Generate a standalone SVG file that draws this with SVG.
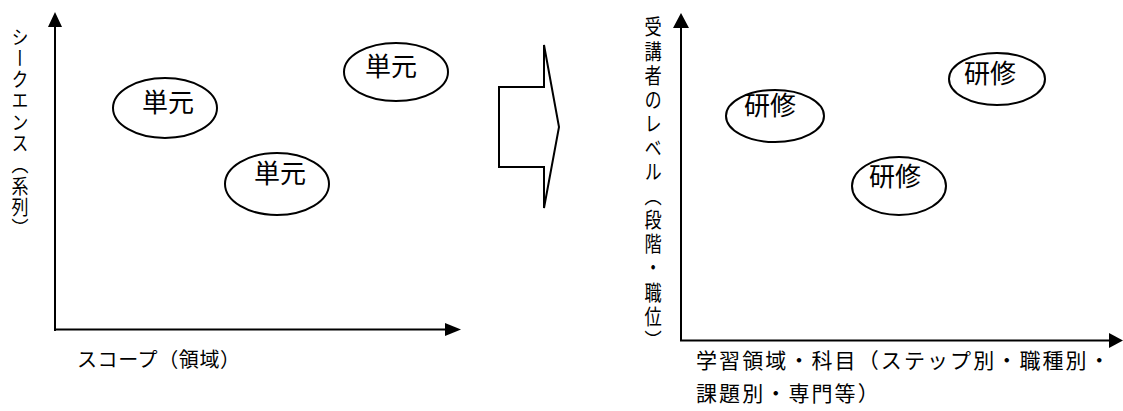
<svg xmlns="http://www.w3.org/2000/svg" width="1123" height="411" viewBox="0 0 1123 411">
<style>
.ax{stroke:#000;stroke-width:2;fill:none}
.ah{fill:#000;stroke:none}
.el{fill:#fff;stroke:#000;stroke-width:2}
.t{font-family:"Noto Sans CJK JP","Noto Sans CJK SC",sans-serif;fill:#000}
.et{font-size:26px;text-anchor:middle}
.lb{font-size:20px}
.vt{writing-mode:vertical-rl}
</style>
<rect width="1123" height="411" fill="#fff"/>
<g id="connectors">
  <line class="ax" x1="55" y1="26" x2="55" y2="331"/>
  <polygon class="ah" points="55,12 48,27 62,27"/>
  <line class="ax" x1="54" y1="329.5" x2="446" y2="329.5"/>
  <polygon class="ah" points="461,329.5 445,323 445,336"/>
  <line class="ax" x1="681" y1="27" x2="681" y2="341"/>
  <polygon class="ah" points="681,13 673,28 689,28"/>
  <line class="ax" x1="680" y1="340.5" x2="1111" y2="340.5"/>
  <polygon class="ah" points="1123,340.5 1109,333 1109,348"/>
</g>
<g id="transform-arrow">
  <polygon points="499,87 544,87 544,45 559,127 544,208 544,167 499,167" fill="#fff" stroke="#000" stroke-width="2" stroke-linejoin="miter"/>
</g>
<g id="left-y-label">
  <text class="t vt" font-size="20" x="20" y="27" letter-spacing="1.3" transform="translate(20,0) scale(0.85,1) translate(-20,0)">シークエンス（系列）</text>
</g>
<g id="left-x-label">
  <text class="t lb" x="77" y="367" letter-spacing="0.6">スコープ（領域）</text>
</g>
<g id="left-unit-1">
  <ellipse class="el" cx="165" cy="108" rx="52" ry="30"/>
  <text class="t et" x="168" y="112">単元</text>
</g>
<g id="left-unit-2">
  <ellipse class="el" cx="396" cy="72" rx="52" ry="29"/>
  <text class="t et" x="391" y="76">単元</text>
</g>
<g id="left-unit-3">
  <ellipse class="el" cx="277" cy="184" rx="52" ry="31"/>
  <text class="t et" x="280" y="183">単元</text>
</g>
<g id="right-y-label">
  <text class="t vt" font-size="21" x="653" y="16" letter-spacing="3.1" transform="translate(653,0) scale(0.82,1) translate(-653,0)">受講者のレベル（段階・職位）</text>
</g>
<g id="right-x-label">
  <text class="t" font-size="21" x="696" y="368" letter-spacing="2.1">学習領域・科目（ステップ別・職種別・</text>
  <text class="t" font-size="21" x="696" y="401" letter-spacing="2.1">課題別・専門等）</text>
</g>
<g id="right-training-1">
  <ellipse class="el" cx="775" cy="116" rx="49" ry="26"/>
  <text class="t et" x="770" y="115">研修</text>
</g>
<g id="right-training-2">
  <ellipse class="el" cx="997" cy="79" rx="48" ry="26"/>
  <text class="t et" x="990" y="83">研修</text>
</g>
<g id="right-training-3">
  <ellipse class="el" cx="899" cy="186" rx="47" ry="29"/>
  <text class="t et" x="895" y="186">研修</text>
</g>
</svg>
